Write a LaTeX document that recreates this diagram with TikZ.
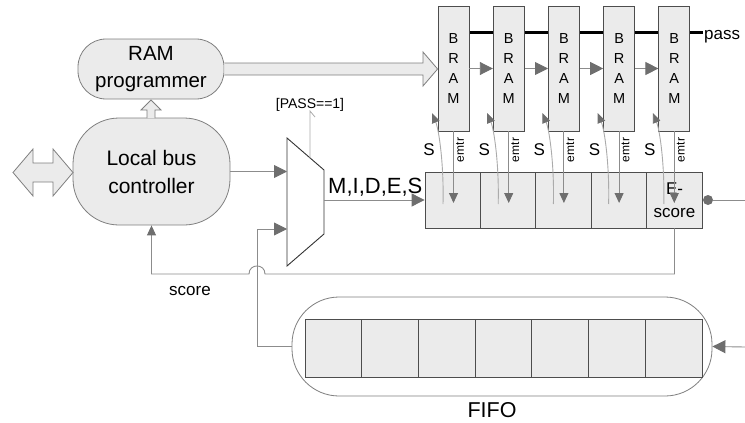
\documentclass[tikz,border=0pt]{standalone}
\usepackage{fontspec}
\setmainfont{Liberation Sans}
\usetikzlibrary{arrows.meta,calc,backgrounds}
\definecolor{boxfill}{HTML}{EBEBEB}
\definecolor{edgec}{HTML}{7F7F7F}
\definecolor{darkc}{HTML}{4D4D4D}
\definecolor{wire}{HTML}{8C8C8C}
\definecolor{tipc}{HTML}{6E6E6E}
\definecolor{swire}{HTML}{ABABAB}
\newcommand\fsz[2]{\fontsize{#1}{#2}\selectfont}
\begin{document}
\begin{tikzpicture}[x=1pt,y=-1pt,
  roundbox/.style={draw=edgec, fill=boxfill, line width=0.8pt, inner sep=0pt, align=center},
  cell/.style={draw=darkc, fill=boxfill, line width=0.8pt, inner sep=0pt, align=center},
  bram/.style={draw=darkc, fill=boxfill, line width=0.8pt, inner sep=0pt, minimum width=31pt, minimum height=125pt, align=center, font=\fsz{14.5}{19.7}},
  conn/.style={draw=wire, line width=0.9pt, -{Triangle[length=13pt,width=13pt,color=tipc]}},
  smallconn/.style={draw=wire, line width=0.9pt, -{Triangle[length=10pt,width=9pt,color=tipc]}},
  sconn/.style={draw=swire, line width=0.9pt, -{Triangle[length=10pt,width=8pt,color=tipc]}},
  hollow/.style={draw=edgec, fill=boxfill, line width=0.8pt, line join=miter},
  lbl/.style={inner sep=0pt, anchor=base}
]
\useasboundingbox (0,0) rectangle (745,423);

% RAM programmer and local bus controller
\node[roundbox, minimum width=146pt, minimum height=60pt, rounded corners=28pt, font=\fsz{20.5}{27}] (ram) at (151,69) {RAM\\programmer};
\node[roundbox, minimum width=157pt, minimum height=107pt, rounded corners=46pt, font=\fsz{21}{28}] (lbc) at (151.5,171.5) {Local bus\\controller};

% double arrow on the left
\draw[hollow] (13,172.5) -- (33,149) -- (33,163) -- (53,163) -- (53,149) -- (73,172.5) -- (53,196) -- (53,182) -- (33,182) -- (33,196) -- cycle;
% small up arrow LBC -> RAM programmer
\draw[hollow] (147,118) -- (147,110) -- (141,110) -- (151,100) -- (161,110) -- (155,110) -- (155,118);

% BRAMs
\foreach \i in {1,...,5} {
  \pgfmathsetmacro\bx{438+55.2*(\i-1)}
  \node[bram] (b\i) at (\bx+15.5,68.5) {B\\R\\A\\M};
}
% pass line (behind BRAMs)
\coordinate (passend) at (703,32);
\coordinate (passY) at (0,32);
\begin{pgfonlayer}{background}
\draw[line width=3pt, black] (b1.east |- passY) -- (passend);
\end{pgfonlayer}
\node[lbl, anchor=base west, font=\fsz{17}{20}] (passlbl) at (704,39) {pass};

% hollow arrow RAM programmer -> BRAM
\draw[hollow] (ram.east |- 0,63) -- (423,63) -- (423,52) -- (b1.west |- 0,69) -- (423,86) -- (423,75) -- (ram.east |- 0,75);

% chain arrows between BRAMs
\foreach \i/\j in {1/2,2/3,3/4,4/5} {
  \draw[conn] (b\i.east) -- (b\j.west);
}

% register row
\foreach \i in {1,...,4} {
  \node[cell, minimum width=55.4pt, minimum height=56pt] (r\i) at (425+27.7+55.4*\i-55.4,200) {};
}
\node[cell, minimum width=55.4pt, minimum height=56pt, font=\fsz{17}{23}] (r5) at (674.5,200) {E-\\score};

% emtr and S connectors
\foreach \i in {1,...,5} {
  \pgfmathsetmacro\bx{438+55.2*(\i-1)}
  \coordinate (e\i) at (\bx+15.5,203);
  \draw[smallconn] (b\i.south) -- (e\i);
  \node[inner sep=0pt, rotate=90, font=\fsz{12}{14}] (el\i) at (\bx+22,150) {emtr};
  \coordinate (sa\i) at (\bx+5,204);
  \coordinate (sb\i) at (\bx-6,113);
  \draw[sconn] (sa\i) .. controls (\bx+6,165) and (\bx+1,130) .. (sb\i);
  \node[lbl, font=\fsz{17}{18}] (sl\i) at (\bx-9,155) {S};
}

% output dot
\node[circle, fill=tipc, minimum size=10pt, inner sep=0pt] (dot) at (708,200) {};
\coordinate (outend) at (745,200);
\draw[draw=wire, line width=0.9pt] (dot) -- (outend);

% multiplexer
\draw[black!80, line width=0.9pt, fill=white] (287,138) -- (324,170) -- (324,234) -- (287,266) -- cycle;
\coordinate (muxA) at (287,172);
\coordinate (muxB) at (287,229);
\coordinate (muxOut) at (324,200);
\coordinate (muxTop) at (310,158);
\coordinate (passtip) at (310,111);
\node[lbl, font=\fsz{14}{16}] (passcond) at (310,108) {[PASS==1]};
\draw[draw=swire, line width=0.8pt] (muxTop) -- (passtip) -- ++(5,6);

\draw[conn] (lbc.east) -- (lbc.east -| muxA);
\draw[conn] (muxOut) -- (r1.west);
\node[lbl, anchor=base west, font=\fsz{22}{24}] (mides) at (328,193) {M,I,D,E,S};

% score feedback
\coordinate (scoreY) at (0,274);
\draw[smallconn] (r5.south) -- (r5.south |- scoreY) -- (265,274) .. controls (265,263.3) and (249,263.3) .. (249,274) -- (lbc.south |- scoreY) -- (lbc.south);
\node[lbl, font=\fsz{17}{20}] (scorelbl) at (190,295) {score};

% FIFO
\node[draw=edgec, fill=white, line width=0.8pt, minimum width=420pt, minimum height=99pt, rounded corners=47pt, inner sep=0pt] (fifo) at (502,346.5) {};
\foreach \i in {1,...,7} {
  \node[cell, minimum width=56.7pt, minimum height=58pt] (f\i) at (305+28.35+56.7*\i-56.7,348) {};
}
\node[lbl, font=\fsz{21.5}{24}] (fifolbl) at (492,417) {FIFO};
\coordinate (fin) at (745,347);
\draw[conn] (fin) -- (fifo.east);
\coordinate (jx) at (257,0);
\draw[conn] (fifo.west) -- (fifo.west -| jx) -- (jx |- muxB) -- (muxB);
\end{tikzpicture}
\end{document}
